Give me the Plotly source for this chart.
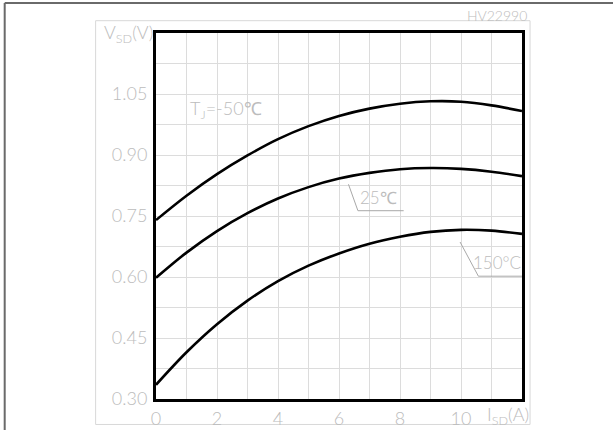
import plotly.graph_objects as go

# Source current I_SD (A)
isd = [0, 1, 2, 3, 4, 5, 6, 7, 8, 9, 10, 11, 12]
# Source-drain voltage V_SD (V) for each junction temperature
v_m50 = [0.740, 0.800, 0.853, 0.899, 0.939, 0.971, 0.996, 1.014, 1.026, 1.032, 1.031, 1.022, 1.008]
v_25 = [0.598, 0.660, 0.713, 0.757, 0.793, 0.821, 0.842, 0.856, 0.865, 0.868, 0.866, 0.859, 0.848]
v_150 = [0.335, 0.415, 0.484, 0.542, 0.590, 0.628, 0.658, 0.682, 0.699, 0.711, 0.716, 0.714, 0.706]

series = [("Tj=-50℃", v_m50), ("25℃", v_25), ("150°C", v_150)]

x_ticks = [0, 2, 4, 6, 8, 10]
y_ticks = [0.30, 0.45, 0.60, 0.75, 0.90, 1.05]
y_ticklabels = ["0.30", "0.45", "0.60", "0.75", "0.90", "1.05"]

LABEL = "#bcbcbc"
GRID = "#dcdcdc"
LEADER = "#a8a8a8"
FONT = "Lato"

fig = go.Figure()
for name, v in series:
    fig.add_trace(go.Scatter(x=isd, y=v, mode="lines", name=name,
                             line=dict(color="black", width=2.6, shape="spline", smoothing=1.0),
                             showlegend=False, hoverinfo="skip"))

fig.update_layout(
    width=613, height=430,
    margin=dict(l=155.5, r=91, t=33, b=30.5),
    paper_bgcolor="white", plot_bgcolor="white",
    font=dict(family=FONT, color=LABEL, size=18, weight=300),
)
fig.update_xaxes(range=[0, 12], tickvals=x_ticks, ticktext=[str(t) for t in x_ticks],
                 showgrid=True, gridcolor=GRID, gridwidth=1,
                 minor=dict(tick0=0, dtick=1, showgrid=True, gridcolor=GRID, gridwidth=1),
                 showline=True, linecolor="black", linewidth=3, mirror=True,
                 ticks="", ticklabelstandoff=1, zeroline=False, automargin=False,
                 tickfont=dict(family=FONT, size=18, color=LABEL, weight=300))
fig.update_yaxes(range=[0.30, 1.20], tickvals=y_ticks, ticktext=y_ticklabels,
                 showgrid=True, gridcolor=GRID, gridwidth=1,
                 minor=dict(tick0=0.30, dtick=0.075, showgrid=True, gridcolor=GRID, gridwidth=1),
                 showline=True, linecolor="black", linewidth=3, mirror=True,
                 ticks="", ticklabelstandoff=2, zeroline=False, automargin=False,
                 tickfont=dict(family=FONT, size=18, color=LABEL, weight=300))

# outer light drawing frame and image border
fig.add_shape(type="rect", xref="paper", yref="paper", x0=-0.165, x1=1.022, y0=-0.0696, y1=1.0336,
              line=dict(color="#d8d8d8", width=1), layer="below")
fig.add_shape(type="line", xref="paper", yref="paper", x0=-0.4134, x1=1.25, y0=1.0819, y1=1.0819,
              line=dict(color="#6a6a6a", width=2))
fig.add_shape(type="line", xref="paper", yref="paper", x0=-0.4134, x1=-0.4134, y0=-0.2, y1=1.0819,
              line=dict(color="#6a6a6a", width=2))

# axis titles
fig.add_annotation(xref="paper", yref="paper", x=-0.003, y=1.0, xanchor="right", yanchor="middle",
                   text="V<sub>SD</sub>(V)", showarrow=False,
                   font=dict(family=FONT, size=18, color=LABEL, weight=300))
fig.add_annotation(xref="paper", yref="paper", x=1.024, y=-0.045, xanchor="right", yanchor="middle",
                   text="I<sub>SD</sub>(A)", showarrow=False,
                   font=dict(family=FONT, size=18, color=LABEL, weight=300))
fig.add_annotation(xref="paper", yref="paper", x=1.018, y=1.048, xanchor="right", yanchor="middle",
                   text="HV22990", showarrow=False,
                   font=dict(family=FONT, size=14, color=LABEL, weight=300))

# curve labels
fig.add_annotation(x=1.05, y=1.011, xanchor="left", yanchor="middle",
                   text="T<sub>J</sub>=-50℃", showarrow=False,
                   font=dict(family=FONT, size=18, color=LABEL, weight=300))
fig.add_annotation(x=6.62, y=0.765, xanchor="left", yanchor="bottom",
                   text="25℃", showarrow=False,
                   font=dict(family=FONT, size=17, color=LABEL, weight=300))
fig.add_shape(type="line", x0=6.31, y0=0.828, x1=6.62, y1=0.763, line=dict(color=LEADER, width=1))
fig.add_shape(type="line", x0=6.62, y0=0.763, x1=8.12, y1=0.763, line=dict(color=LEADER, width=1))
fig.add_annotation(x=10.33, y=0.604, xanchor="left", yanchor="bottom",
                   text="150°C", showarrow=False,
                   font=dict(family=FONT, size=17, color=LABEL, weight=300))
fig.add_shape(type="line", x0=9.97, y0=0.686, x1=10.57, y1=0.602, line=dict(color=LEADER, width=1))
fig.add_shape(type="line", x0=10.57, y0=0.602, x1=12.0, y1=0.602, line=dict(color=LEADER, width=1))

fig.write_html("out.html", config={"displayModeBar": False},
               post_script="document.body.style.margin='0';")
